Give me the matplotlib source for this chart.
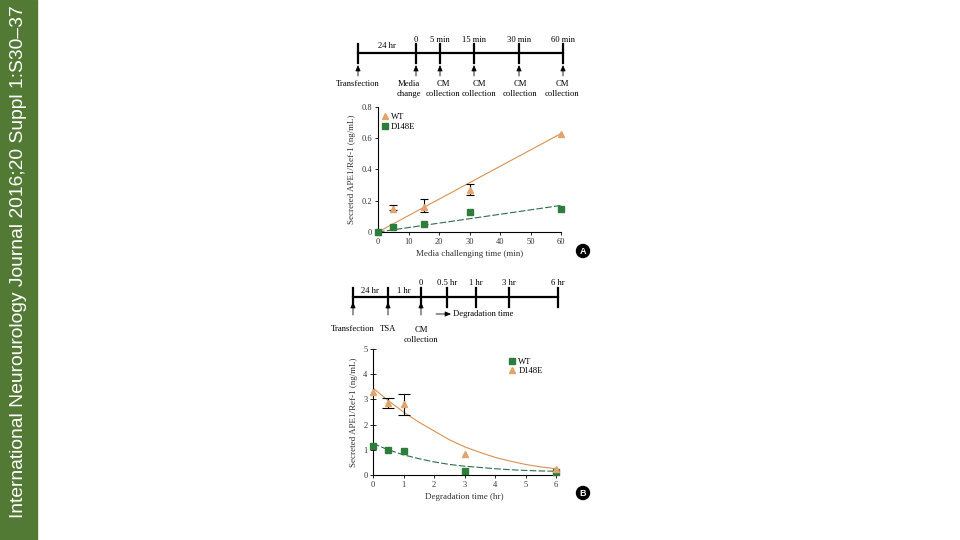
import matplotlib.pyplot as plt
from matplotlib.patches import Rectangle, Circle

# ---- data, panel A ----
a_time = [0, 5, 15, 30, 60]
a_wt = [0.0, 0.15, 0.16, 0.27, 0.63]
a_wt_lo = [0.0, 0.14, 0.13, 0.235, 0.63]
a_wt_hi = [0.0, 0.175, 0.21, 0.31, 0.63]
a_d148e = [0.0, 0.035, 0.05, 0.13, 0.15]
a_wt_fit_x = [0, 60]
a_wt_fit_y = [0.0, 0.63]
a_d_fit_x = [0, 60]
a_d_fit_y = [0.0, 0.17]

# ---- data, panel B ----
b_time = [0, 0.5, 1, 3, 6]
b_wt = [1.15, 0.98, 0.96, 0.15, 0.12]
b_d148e = [3.3, 2.85, 2.8, 0.85, 0.22]
b_d_lo = [3.3, 2.65, 2.4, 0.85, 0.22]
b_d_hi = [3.3, 3.05, 3.2, 0.85, 0.22]
b_d_fit_x = [0, 0.5, 1, 1.5, 2, 2.5, 3, 3.5, 4, 4.5, 5, 5.5, 6]
b_d_fit_y = [3.45, 2.95, 2.5, 2.1, 1.75, 1.4, 1.12, 0.9, 0.7, 0.55, 0.42, 0.32, 0.25]
b_wt_fit_x = [0, 0.5, 1, 1.5, 2, 2.5, 3, 3.5, 4, 4.5, 5, 5.5, 6]
b_wt_fit_y = [1.25, 1.0, 0.8, 0.65, 0.52, 0.42, 0.35, 0.3, 0.25, 0.21, 0.18, 0.16, 0.15]

# ---- timelines ----
tl_a_x = [358, 416, 440, 474, 519, 563]
tl_a_top = ["", "0", "5 min", "15 min", "30 min", "60 min"]
tl_a_bottom = ["Transfection", "Media\nchange", "CM\ncollection", "CM\ncollection",
               "CM\ncollection", "CM\ncollection"]
tl_a_text_x = [358, 409, 443, 479, 520, 562]
tl_b_x = [353, 388, 421, 447, 476, 509, 558]
tl_b_top = ["", "", "0", "0.5 hr", "1 hr", "3 hr", "6 hr"]

ORANGE = "#E2A46A"
ORANGE_LINE = "#D9914E"
GREEN = "#2F7D3C"
GREEN_LINE = "#2A6E48"
SERIF = "Liberation Serif"
W, H = 960, 540

fig = plt.figure(figsize=(9.6, 5.4), dpi=100)
fig.patch.set_facecolor("white")

# overlay axes in pixel coordinates
ov = fig.add_axes([0, 0, 1, 1])
ov.set_xlim(0, W)
ov.set_ylim(H, 0)
ov.axis("off")

ov.add_patch(Rectangle((0, 0), 37, H, color="#527A35", zorder=0))
ov.text(19, 262, "International Neurourology Journal 2016;20 Suppl 1:S30\u201337",
        rotation=90, color="white", fontsize=13.9, family="Liberation Sans",
        ha="center", va="center")


def up_arrow(x, y0, y1):
    ov.annotate("", xy=(x, y0), xytext=(x, y1),
                arrowprops=dict(arrowstyle="-|>,head_width=0.15,head_length=0.35",
                                lw=0.6, color="black", shrinkA=0, shrinkB=0))


# timeline A
ov.plot([tl_a_x[0], tl_a_x[-1]], [53, 53], color="black", lw=1.6)
for x, top in zip(tl_a_x, tl_a_top):
    ov.plot([x, x], [44, 63], color="black", lw=1.6)
    if top:
        ov.text(x, 40, top, fontsize=6.2, family=SERIF, ha="center", va="center")
    up_arrow(x, 65, 76)
for x, bot in zip(tl_a_text_x, tl_a_bottom):
    ov.text(x, 80, bot, fontsize=6.2, family=SERIF, ha="center", va="top",
            linespacing=1.3)
ov.text(387, 46, "24 hr", fontsize=6.2, family=SERIF, ha="center", va="center")

# timeline B
ov.plot([tl_b_x[0], tl_b_x[-1]], [297, 297], color="black", lw=1.6)
for x, top in zip(tl_b_x, tl_b_top):
    ov.plot([x, x], [288, 307], color="black", lw=1.6)
    if top:
        ov.text(x, 283, top, fontsize=6.2, family=SERIF, ha="center", va="center")
ov.text(370, 291, "24 hr", fontsize=6.2, family=SERIF, ha="center", va="center")
ov.text(404, 291, "1 hr", fontsize=6.2, family=SERIF, ha="center", va="center")
for x in tl_b_x[:3]:
    up_arrow(x, 302, 315)
ov.text(353, 329, "Transfection", fontsize=6.2, family=SERIF, ha="center", va="center")
ov.text(388, 329, "TSA", fontsize=6.2, family=SERIF, ha="center", va="center")
ov.text(421, 335, "CM\ncollection", fontsize=6.2, family=SERIF, ha="center",
        va="center", linespacing=1.3)
ov.annotate("", xy=(451, 314), xytext=(436, 314),
            arrowprops=dict(arrowstyle="-|>,head_width=0.15,head_length=0.35",
                            lw=0.6, color="black", shrinkA=0, shrinkB=0))
ov.text(453, 314, "Degradation time", fontsize=6.2, family=SERIF, ha="left",
        va="center")

# panel badges
for y, letter in [(251, "A"), (493, "B")]:
    ov.add_patch(Circle((583, y), 6.5, color="black"))
    ov.text(583, y + 0.5, letter, color="white", fontsize=6.5, fontweight="bold",
            family="Liberation Sans", ha="center", va="center")


def pix_axes(x0, x1, y0, y1):
    return fig.add_axes([x0 / W, 1 - y0 / H, (x1 - x0) / W, (y0 - y1) / H])


def style(ax):
    for s in ["top", "right"]:
        ax.spines[s].set_visible(False)
    for s in ["left", "bottom"]:
        ax.spines[s].set_linewidth(0.8)
    ax.tick_params(labelsize=6, length=2.5, width=0.6, pad=2, colors="black")
    for lab in ax.get_xticklabels() + ax.get_yticklabels():
        lab.set_family(SERIF)
        lab.set_color("#333333")
    ax.patch.set_alpha(0)


def error_bars(ax, x, y, lo, hi, cap):
    idx = [i for i in range(len(x)) if hi[i] > lo[i]]
    ax.errorbar([x[i] for i in idx], [y[i] for i in idx],
                yerr=[[y[i] - lo[i] for i in idx], [hi[i] - y[i] for i in idx]],
                fmt="none", ecolor="black", elinewidth=0.8, capsize=cap,
                capthick=0.8, zorder=3)


# panel A
axa = pix_axes(378, 561, 232, 107)
axa.set_xlim(0, 60)
axa.set_ylim(0, 0.8)
axa.set_xticks(range(0, 61, 10))
axa.set_yticks([0, 0.2, 0.4, 0.6, 0.8])
axa.set_yticklabels(["0", "0.2", "0.4", "0.6", "0.8"])
axa.plot(a_wt_fit_x, a_wt_fit_y, color=ORANGE_LINE, lw=0.8)
axa.plot(a_d_fit_x, a_d_fit_y, color=GREEN_LINE, lw=0.8, ls=(0, (6, 2)))
error_bars(axa, a_time, a_wt, a_wt_lo, a_wt_hi, 3)
axa.plot(a_time, a_wt, "^", color=ORANGE, ms=4, zorder=4, clip_on=False, label="WT")
axa.plot(a_time, a_d148e, "s", color=GREEN, ms=4.5, zorder=4, clip_on=False,
         label="D148E")
axa.set_xlabel("Media challenging time (min)", fontsize=6.5, family=SERIF,
               color="#333333", labelpad=3)
axa.set_ylabel("Secreted APE1/Ref-1 (ng/mL)", fontsize=6.5, family=SERIF,
               color="#333333", labelpad=4)
style(axa)
axa.legend(loc="upper left", bbox_to_anchor=(-0.01, 1.0), frameon=False,
           prop={"family": SERIF, "size": 6.2}, handlelength=0.6, handletextpad=0.4,
           borderaxespad=0.3, labelspacing=0.2)

# panel B
axb = pix_axes(373, 556, 475, 349)
axb.set_xlim(0, 6)
axb.set_ylim(0, 5)
axb.set_xticks(range(0, 7))
axb.set_yticks(range(0, 6))
axb.plot(b_d_fit_x, b_d_fit_y, color=ORANGE_LINE, lw=0.8)
axb.plot(b_wt_fit_x, b_wt_fit_y, color=GREEN_LINE, lw=0.8, ls=(0, (6, 2)))
error_bars(axb, b_time, b_d148e, b_d_lo, b_d_hi, 4)
axb.plot(b_time, b_wt, "s", color=GREEN, ms=4.5, zorder=4, clip_on=False, label="WT")
axb.plot(b_time, b_d148e, "^", color=ORANGE, ms=4, zorder=4, clip_on=False,
         label="D148E")
axb.set_xlabel("Degradation time (hr)", fontsize=6.5, family=SERIF,
               color="#333333", labelpad=3)
axb.set_ylabel("Secreted APE1/Ref-1 (ng/mL)", fontsize=6.5, family=SERIF,
               color="#333333", labelpad=4)
style(axb)
axb.tick_params(axis="y", direction="inout", length=4)
axb.legend(loc="upper right", bbox_to_anchor=(0.96, 0.98), frameon=False,
           prop={"family": SERIF, "size": 6.2}, handlelength=0.6, handletextpad=0.4,
           borderaxespad=0.3, labelspacing=0.2)

fig.savefig("out.png", dpi=100)
